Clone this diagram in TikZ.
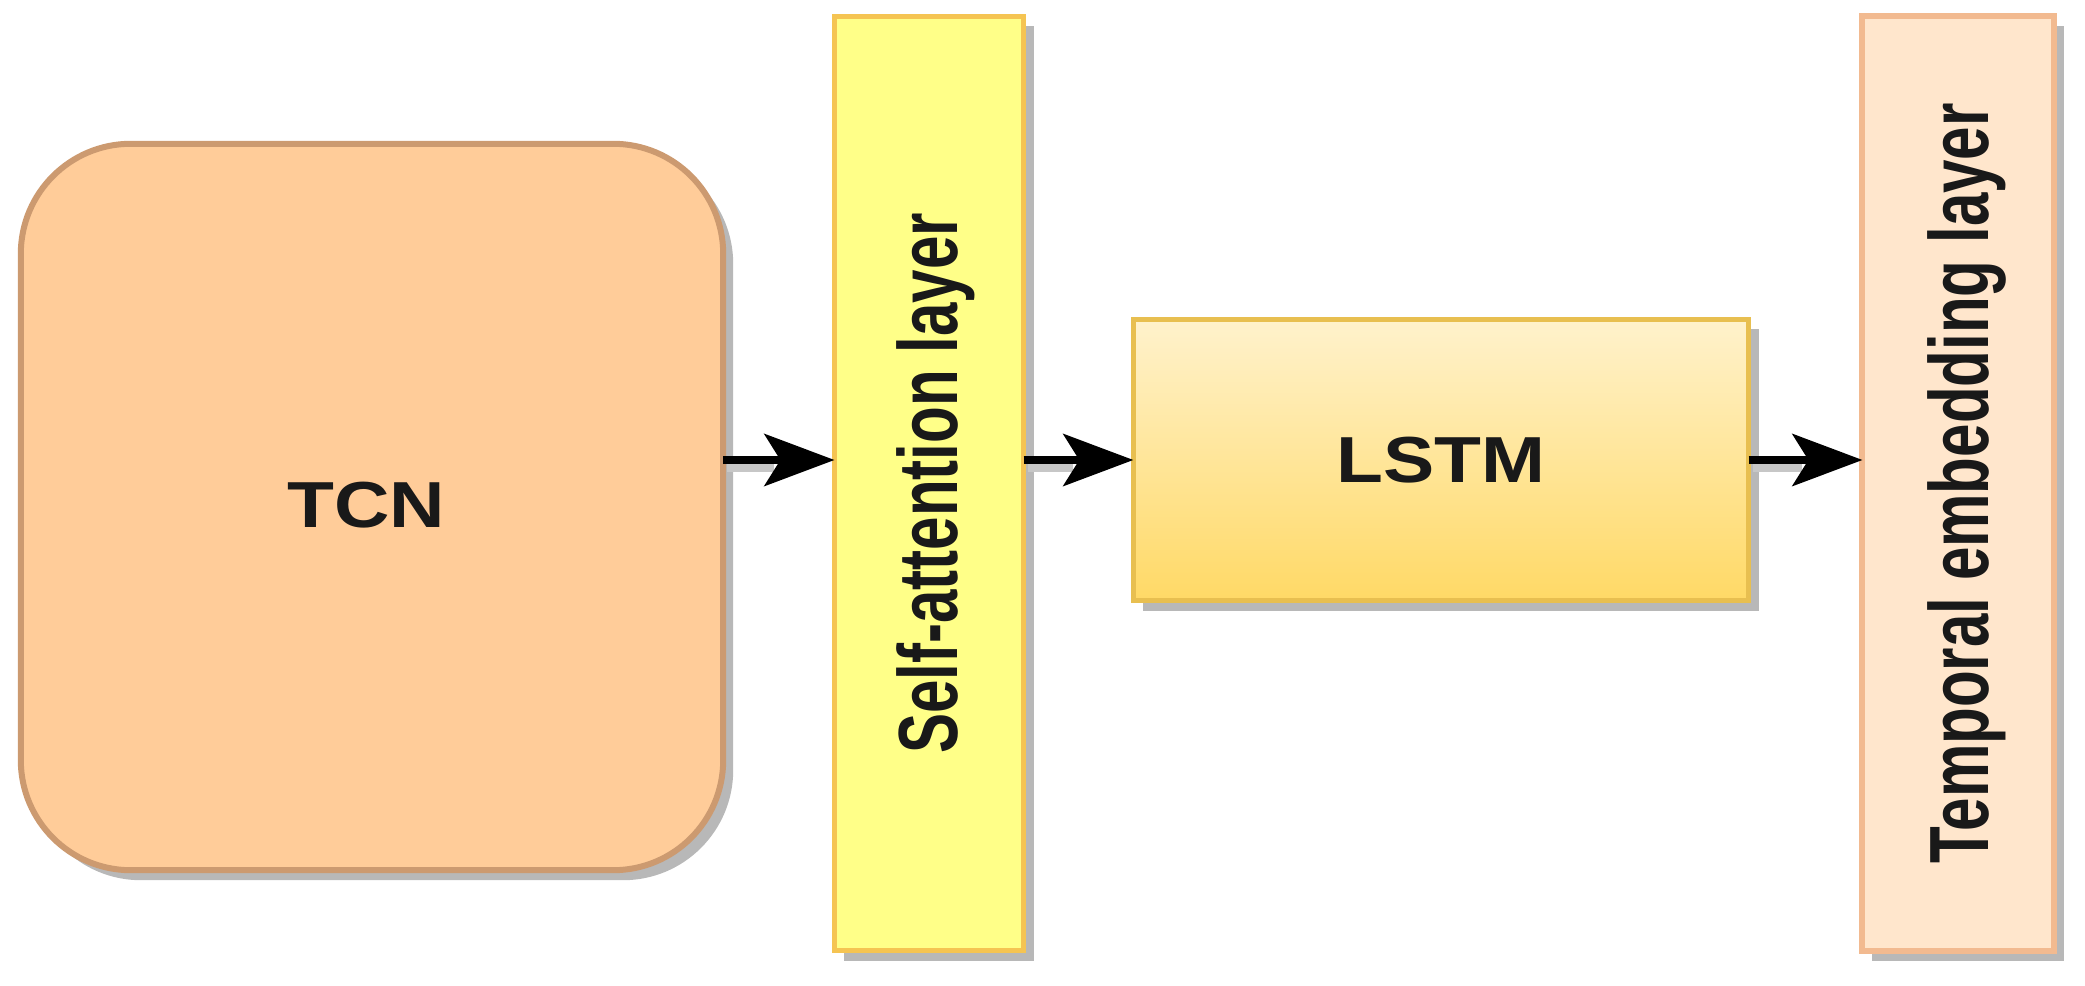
\documentclass[tikz,border=0pt]{standalone}
\usepackage{fontspec}
\setmainfont{Liberation Sans}
\newfontfamily\vfont{Liberation Sans}[FakeStretch=0.715]
\newfontfamily\hfont{Liberation Sans}[FakeStretch=1.18]
\usetikzlibrary{shadows,arrows.meta}
\definecolor{tcnfill}{HTML}{FFCC99}
\definecolor{tcndraw}{HTML}{CC9A70}
\definecolor{safill}{HTML}{FFFF88}
\definecolor{sadraw}{HTML}{F5C452}
\definecolor{lstmtop}{HTML}{FFF2CC}
\definecolor{lstmbot}{HTML}{FFD966}
\definecolor{lstmdraw}{HTML}{E8BF50}
\definecolor{tefill}{HTML}{FFE6CC}
\definecolor{tedraw}{HTML}{F2BA90}
\begin{document}
\begin{tikzpicture}[x=0.01cm,y=-0.01cm,
  boxshadow/.style={drop shadow={shadow xshift=0.1cm,shadow yshift=-0.1cm,fill=black!28,opacity=1}},
  basebox/.style={rectangle,inner sep=0pt,outer sep=0pt,line width=0.05cm,boxshadow},
  tcnbox/.style={basebox,rounded corners=1.1cm,fill=tcnfill,draw=tcndraw,line width=0.06cm},
  sabox/.style={basebox,fill=safill,draw=sadraw},
  lstmbox/.style={basebox,top color=lstmtop,bottom color=lstmbot,draw=lstmdraw},
  tebox/.style={basebox,fill=tefill,draw=tedraw,line width=0.06cm},
  htext/.style={inner sep=0pt,font=\hfont\bfseries\fontsize{18.5pt}{22pt}\selectfont,text=black!90},
  vtext/.style={inner sep=0pt,rotate=90,font=\vfont\bfseries\fontsize{23.9pt}{28pt}\selectfont,text=black!90},
  flow/.style={line width=0.075cm,-{Stealth[length=0.7cm,width=0.52cm,inset=0.16cm]}},
  flowshadow/.style={line width=0.075cm,draw=black!22}
]
\useasboundingbox (0,0) rectangle (2085,986);
\node[tcnbox,minimum width=7.02cm,minimum height=7.26cm] (tcn) at (372,507) {};
\node[sabox,minimum width=1.89cm,minimum height=9.34cm] (sa) at (929,483.5) {};
\node[lstmbox,minimum width=6.15cm,minimum height=2.81cm] (lstm) at (1441,460) {};
\node[tebox,minimum width=1.91cm,minimum height=9.34cm] (te) at (1958,483.5) {};

\node[htext] (tcntext) at (366,505) {TCN};
\node[htext] (lstmtext) at (lstm.center) {LSTM};
\node[vtext] (satext) at ([xshift=0.07cm]sa.center) {Self-attention layer};
\node[vtext] (tetext) at ([xshift=0.09cm]te.center) {Temporal embedding layer};

\draw[flowshadow] ([xshift=0.04cm,yshift=-0.08cm]tcn.east |- lstm.west) -- ([xshift=-0.6cm,yshift=-0.08cm]sa.west |- lstm.west);
\draw[flowshadow] ([xshift=0.04cm,yshift=-0.08cm]sa.east |- lstm.west) -- ([xshift=-0.6cm,yshift=-0.08cm]lstm.west);
\draw[flowshadow] ([xshift=0.04cm,yshift=-0.08cm]lstm.east) -- ([xshift=-0.6cm,yshift=-0.08cm]te.west |- lstm.east);

\draw[flow] (tcn.east |- lstm.west) -- (sa.west |- lstm.west);
\draw[flow] (sa.east |- lstm.west) -- (lstm.west);
\draw[flow] (lstm.east) -- (te.west |- lstm.east);
\end{tikzpicture}
\end{document}
